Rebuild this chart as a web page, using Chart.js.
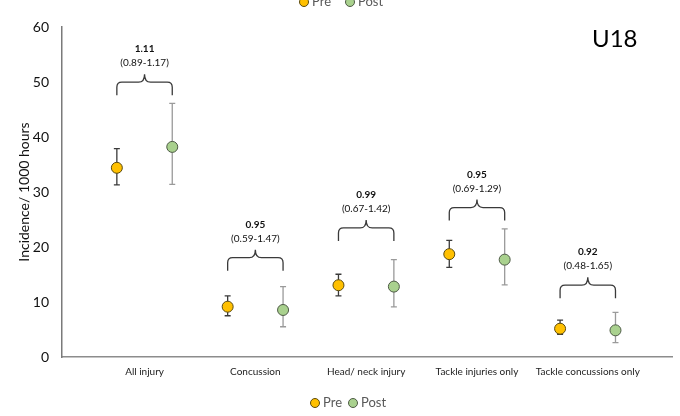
<!DOCTYPE html>
<html>
<head>
<meta charset="utf-8">
<script src="https://cdn.jsdelivr.net/npm/chart.js@4"></script>
<style>
  html, body { margin: 0; padding: 0; background: #fff; }
  #wrap { width: 680px; height: 416px; }
</style>
</head>
<body>
<div id="wrap"><canvas id="c" width="680" height="416"></canvas></div>
<script>
const categories = ['All injury', 'Concussion', 'Head/ neck injury', 'Tackle injuries only', 'Tackle concussions only'];
const preVals  = [34.4, 9.15, 13.05, 18.7, 5.15];
const preLow   = [31.3, 7.5, 11.1, 16.3, 4.1];
const preHigh  = [37.9, 11.1, 15.05, 21.2, 6.7];
const postVals = [38.2, 8.55, 12.8, 17.7, 4.85];
const postLow  = [31.4, 5.5, 9.1, 13.1, 2.6];
const postHigh = [46.1, 12.8, 17.7, 23.3, 8.1];
const rateRatio = ['1.11', '0.95', '0.99', '0.95', '0.92'];
const ratioCI   = ['(0.89-1.17)', '(0.59-1.47)', '(0.67-1.42)', '(0.69-1.29)', '(0.48-1.65)'];
const braceLevel = [47.6, 15.7, 21.1, 24.8, 10.7];
const seriesNames = ['Pre', 'Post'];
const panelLabel = 'U18';

const FONT = 'Lato, "Open Sans", sans-serif';
const PRE_FILL = '#FFC000', POST_FILL = '#A9D18E';
const PRE_EDGE = '#5a4a10', POST_EDGE = '#4d5a45';

const preData = preVals.map((v, i) => ({x: i - 0.25, y: v}));
const postData = postVals.map((v, i) => ({x: i + 0.25, y: v}));

const extras = {
  id: 'extras',
  beforeDatasetsDraw(chart) {
    const ctx = chart.ctx, xs = chart.scales.x, ys = chart.scales.y;
    const bars = [
      {off: -0.25, lo: preLow, hi: preHigh, col: '#3a3a3a'},
      {off: 0.25, lo: postLow, hi: postHigh, col: '#9a9a9a'}
    ];
    ctx.save();
    ctx.lineWidth = 1.3;
    bars.forEach(b => {
      ctx.strokeStyle = b.col;
      categories.forEach((c, i) => {
        const x = xs.getPixelForValue(i + b.off);
        const y1 = ys.getPixelForValue(b.lo[i]);
        const y2 = ys.getPixelForValue(b.hi[i]);
        ctx.beginPath();
        ctx.moveTo(x, y1); ctx.lineTo(x, y2);
        ctx.moveTo(x - 3, y1); ctx.lineTo(x + 3, y1);
        ctx.moveTo(x - 3, y2); ctx.lineTo(x + 3, y2);
        ctx.stroke();
      });
    });
    ctx.restore();
  },
  afterDraw(chart) {
    const ctx = chart.ctx, xs = chart.scales.x, ys = chart.scales.y;
    ctx.save();
    // braces and ratio labels
    categories.forEach((c, i) => {
      const xL = xs.getPixelForValue(i - 0.25);
      const xR = xs.getPixelForValue(i + 0.25);
      const xc = (xL + xR) / 2;
      const yb = ys.getPixelForValue(braceLevel[i]);
      const yh = yb - 13, yt = yb - 21;
      ctx.strokeStyle = '#3a3a3a';
      ctx.lineWidth = 1.3;
      ctx.beginPath();
      ctx.moveTo(xL, yb);
      ctx.lineTo(xL, yh + 5);
      ctx.quadraticCurveTo(xL, yh, xL + 5, yh);
      ctx.lineTo(xc - 6, yh);
      ctx.quadraticCurveTo(xc, yh, xc, yt);
      ctx.quadraticCurveTo(xc, yh, xc + 6, yh);
      ctx.lineTo(xR - 5, yh);
      ctx.quadraticCurveTo(xR, yh, xR, yh + 5);
      ctx.lineTo(xR, yb);
      ctx.stroke();
      ctx.fillStyle = '#111';
      ctx.textAlign = 'center';
      ctx.textBaseline = 'middle';
      ctx.font = '10px ' + FONT;
      ctx.fillText(ratioCI[i], xc, yb - 32);
      ctx.font = 'bold 10px ' + FONT;
      ctx.fillText(rateRatio[i], xc, yb - 46);
    });
    // panel label
    ctx.fillStyle = '#000';
    ctx.textAlign = 'left';
    ctx.textBaseline = 'middle';
    ctx.font = '24px ' + FONT;
    ctx.fillText(panelLabel, 592, 39);
    // legends (top, partly cut off, and bottom)
    const drawLegend = (x0, x1, y) => {
      [[x0, PRE_FILL, PRE_EDGE, seriesNames[0]], [x1, POST_FILL, POST_EDGE, seriesNames[1]]].forEach(([x, f, e, t]) => {
        ctx.beginPath();
        ctx.arc(x, y, 4.5, 0, Math.PI * 2);
        ctx.fillStyle = f; ctx.fill();
        ctx.strokeStyle = e; ctx.lineWidth = 1; ctx.stroke();
        ctx.fillStyle = '#595959';
        ctx.font = '13px ' + FONT;
        ctx.textAlign = 'left';
        ctx.textBaseline = 'middle';
        ctx.fillText(t, x + 8, y);
      });
    };
    drawLegend(304, 350, 2);
    drawLegend(315, 353, 403);
    ctx.restore();
  }
};

new Chart(document.getElementById('c'), {
  type: 'scatter',
  data: {
    datasets: [
      {label: seriesNames[0], data: preData, backgroundColor: PRE_FILL, borderColor: PRE_EDGE, borderWidth: 1, pointRadius: 5.5, pointHoverRadius: 5.5},
      {label: seriesNames[1], data: postData, backgroundColor: POST_FILL, borderColor: POST_EDGE, borderWidth: 1, pointRadius: 5.5, pointHoverRadius: 5.5}
    ]
  },
  options: {
    responsive: false,
    animation: false,
    layout: {padding: {top: 27, right: 8, bottom: 0, left: 0}},
    plugins: {legend: {display: false}, tooltip: {enabled: false}},
    scales: {
      x: {
        type: 'linear',
        min: -0.745,
        max: 4.76,
        afterBuildTicks: (s) => { s.ticks = categories.map((c, i) => ({value: i})); },
        afterFit: (s) => { s.height = 59; },
        grid: {display: false, drawTicks: false},
        border: {display: true, color: '#8c8c8c', width: 1.5},
        ticks: {
          callback: (v) => categories[v] ?? '',
          autoSkip: false, maxRotation: 0, padding: 9,
          color: '#222', font: {size: 10, family: FONT}
        }
      },
      y: {
        min: 0, max: 60,
        afterFit: (s) => { s.width = 62; },
        grid: {display: false, drawTicks: false},
        border: {display: true, color: '#7a7a7a', width: 1.5},
        ticks: {stepSize: 10, padding: 13, color: '#111', font: {size: 14, family: FONT}},
        title: {display: true, text: 'Incidence/ 1000 hours', color: '#111', font: {size: 14, family: FONT}, padding: {top: 16, bottom: 0}}
      }
    }
  },
  plugins: [extras]
});
</script>
</body>
</html>
